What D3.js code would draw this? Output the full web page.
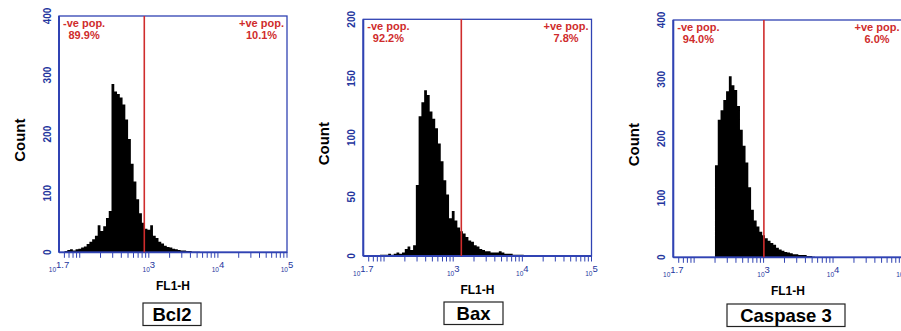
<!DOCTYPE html>
<html><head><meta charset="utf-8">
<script src="https://cdn.jsdelivr.net/npm/d3@7"></script>
<style>
body{margin:0;background:#fff}
svg{display:block}
text{font-family:"Liberation Sans",Arial,Helvetica,sans-serif}
</style>
</head><body>
<svg id="chart" width="901" height="331"></svg>
<script>
// Flow cytometry FL1-H histograms, one panel per marker
const markers = ["Bcl2", "Bax", "Caspase 3"];

// Histogram bins in log10(FL1-H) units
const binLogStart = 1.7;
const binLogWidth = 0.04;

const bcl2Counts = [0,0,2,4,5,3,5,6,8,10, 14,18,22,28,46,36,44,58,70,285,
  272,268,262,250,225,192,150,120,90,66, 50,40,38,46,28,24,18,15,11,9,
  8,6,5,4,3,3,2,2,1,1, 1];
const baxCounts = [0,0,0,0,0,0,1,1,1,2, 1,2,3,2,3,6,8,5,9,60,
  118,130,140,136,122,116,108,95,80,64, 52,32,38,30,24,21,19,16,13,12,
  9,8,6,5,4,4,3,3,3,4, 3,2,2,2,1,1,1,1];
const casp3Counts = [0,0,0,0,0,0,0,0,0,0, 0,0,0,0,0,155,232,248,265,280,
  305,290,282,255,215,188,160,118,80,62, 52,43,37,32,28,24,21,16,13,11,
  9,8,7,5,5,4,4,4,2,2, 1];

const yMaxes = [400, 200, 400];
const yTicks400 = [0, 100, 200, 300, 400];
const yTicks200 = [0, 50, 100, 150, 200];
const xTickExps = ["1.7", "3", "4", "5"];
const gates = [860, 1310, 1010];
const negLabel = "-ve pop.";
const posLabel = "+ve pop.";
const negPct = ["89.9%", "92.2%", "94.0%"];
const posPct = ["10.1%", "7.8%", "6.0%"];

const series = [bcl2Counts, baxCounts, casp3Counts];
const yTickSets = [yTicks400, yTicks200, yTicks400];

// Panel frames in pixels
const frames = [
  {left: 59,    top: 16,   right: 287,   bottom: 252.3, boxY: 303, boxW: 58},
  {left: 363.3, top: 19.3, right: 591.5, bottom: 256,   boxY: 302, boxW: 59},
  {left: 673.3, top: 20,   right: 902.5, bottom: 257.3, boxY: 304, boxW: 118}
];

const BLUE = "#3043b3", BLUE_TXT = "#25369e", RED = "#cf2c2c";
const svg = d3.select("#chart");

frames.forEach((f, i) => {
  const g = svg.append("g");
  const x = d3.scaleLog().domain([Math.pow(10, 1.7), 1e5]).range([f.left, f.right]);
  const y = d3.scaleLinear().domain([0, yMaxes[i]]).range([f.bottom, f.top]);

  // histogram as one stepped area so the bins join without seams
  const counts = series[i];
  const pts = counts.map((c, j) => ({l: binLogStart + j * binLogWidth, c}));
  pts.push({l: binLogStart + counts.length * binLogWidth, c: counts[counts.length - 1]});
  const area = d3.area()
    .curve(d3.curveStepAfter)
    .x(d => x(Math.pow(10, d.l)))
    .y0(f.bottom)
    .y1(d => y(d.c));
  g.append("path").datum(pts).attr("d", area).attr("fill", "#000");

  // frame
  g.append("rect")
    .attr("x", f.left).attr("y", f.top)
    .attr("width", f.right - f.left).attr("height", f.bottom - f.top)
    .attr("fill", "none").attr("stroke", BLUE).attr("stroke-width", 1.3);
  g.append("line")
    .attr("x1", f.left).attr("x2", f.left).attr("y1", f.top).attr("y2", f.bottom)
    .attr("stroke", BLUE).attr("stroke-width", 2);
  g.append("line")
    .attr("x1", f.left).attr("x2", f.right).attr("y1", f.bottom).attr("y2", f.bottom)
    .attr("stroke", BLUE).attr("stroke-width", 1.8);

  // log minor ticks below the axis
  g.append("g").selectAll("line")
    .data(x.ticks())
    .join("line")
    .attr("x1", d => x(d)).attr("x2", d => x(d))
    .attr("y1", f.bottom).attr("y2", f.bottom + 5.5)
    .attr("stroke", BLUE).attr("stroke-width", 1);

  // decade labels
  xTickExps.forEach(e => {
    const t = g.append("text")
      .attr("x", x(Math.pow(10, +e))).attr("y", f.bottom + 20)
      .attr("text-anchor", "middle").attr("fill", BLUE_TXT);
    t.append("tspan").attr("font-size", 6.5).text("10");
    t.append("tspan").attr("font-size", 9.5).attr("dy", -4.5).text(e);
  });

  // y tick labels, rotated
  g.append("g").selectAll("text")
    .data(yTickSets[i])
    .join("text")
    .attr("transform", d => `translate(${f.left - 8.5},${y(d)}) rotate(-90)`)
    .attr("text-anchor", "middle")
    .attr("font-size", 10).attr("font-weight", "bold")
    .attr("fill", BLUE_TXT)
    .text(d => d);

  // gate
  g.append("line")
    .attr("x1", x(gates[i])).attr("x2", x(gates[i]))
    .attr("y1", f.top).attr("y2", f.bottom)
    .attr("stroke", RED).attr("stroke-width", 1.6);

  // population labels
  const neg = g.append("text")
    .attr("x", f.left + 4).attr("y", f.top + 11)
    .attr("font-size", 11).attr("font-weight", "bold").attr("fill", RED)
    .text(negLabel);
  const nw = neg.node().getComputedTextLength();
  g.append("text")
    .attr("x", f.left + 4 + nw / 2).attr("y", f.top + 23)
    .attr("text-anchor", "middle")
    .attr("font-size", 11).attr("font-weight", "bold").attr("fill", RED)
    .text(negPct[i]);
  const pos = g.append("text")
    .attr("x", f.right - 3).attr("y", f.top + 11)
    .attr("text-anchor", "end")
    .attr("font-size", 11).attr("font-weight", "bold").attr("fill", RED)
    .text(posLabel);
  const pw = pos.node().getComputedTextLength();
  g.append("text")
    .attr("x", f.right - 3 - pw / 2).attr("y", f.top + 23)
    .attr("text-anchor", "middle")
    .attr("font-size", 11).attr("font-weight", "bold").attr("fill", RED)
    .text(posPct[i]);

  // axis titles
  const midX = (f.left + f.right) / 2;
  g.append("text")
    .attr("transform", `translate(${f.left - 34},${(f.top + f.bottom) / 2 + 6}) rotate(-90)`)
    .attr("text-anchor", "middle")
    .attr("font-size", 15).attr("font-weight", "bold").attr("fill", "#000")
    .text("Count");
  g.append("text")
    .attr("x", midX).attr("y", f.bottom + 38)
    .attr("text-anchor", "middle")
    .attr("font-size", 12).attr("font-weight", "bold").attr("fill", "#000")
    .text("FL1-H");

  // marker name box
  const cx = [172, 473.5, 786][i];
  g.append("rect")
    .attr("x", cx - f.boxW / 2).attr("y", f.boxY)
    .attr("width", f.boxW).attr("height", 22.5)
    .attr("fill", "#fff").attr("stroke", "#222").attr("stroke-width", 1.2);
  g.append("text")
    .attr("x", cx).attr("y", f.boxY + 18)
    .attr("text-anchor", "middle")
    .attr("font-size", 18.5).attr("font-weight", "bold").attr("fill", "#000")
    .text(markers[i]);
});
</script>
</body></html>
